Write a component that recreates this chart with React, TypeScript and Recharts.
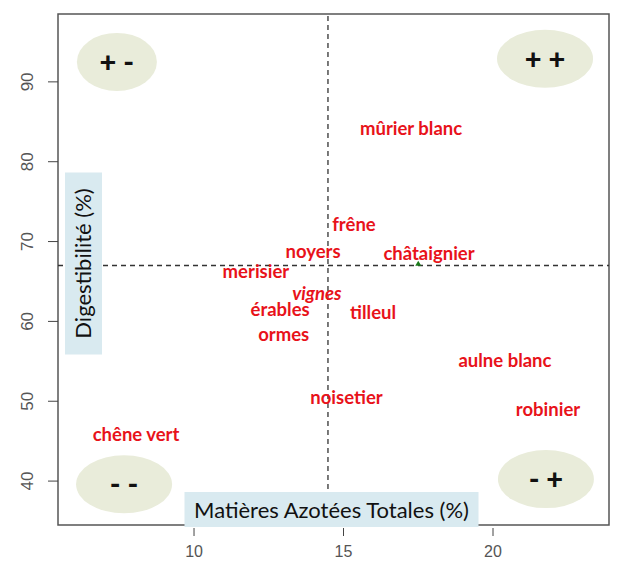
import { ReferenceArea, ReferenceLine, Scatter, ScatterChart, XAxis, YAxis } from "recharts";

// Matières Azotées Totales (%) vs Digestibilité (%) for fodder trees
const species = [
  "mûrier blanc",
  "frêne",
  "noyers",
  "châtaignier",
  "merisier",
  "vignes",
  "érables",
  "tilleul",
  "ormes",
  "aulne blanc",
  "noisetier",
  "robinier",
  "chêne vert",
];
const mat = [17.26, 15.35, 13.98, 17.86, 12.07, 14.11, 12.88, 15.99, 13.0, 20.4, 15.1, 21.84, 8.06];
const digest = [84.1, 72.1, 68.75, 68.5, 66.25, 63.5, 61.5, 61.1, 58.4, 55.1, 50.5, 49.0, 45.8];

const quadrantLabels = ["+ -", "+ +", "- -", "- +"];
const quadrantX = [7.42, 21.74, 7.66, 21.77];
const quadrantY = [92.5, 92.9, 39.6, 40.25];

const markerX = [17.5];
const markerY = [67.1];

const xTicks = [10, 15, 20];
const yTicks = [40, 50, 60, 70, 80, 90];

const MEAN_MAT = 14.48;
const MEAN_DIGEST = 67.0;

const X_MIN = 5.45;
const X_MAX = 23.88;
const Y_MIN = 34.5;
const Y_MAX = 98.5;

const RED = "#e8121a";
const BUBBLE = "#e9ecda";
const LABEL_BG = "#d9eaf0";

const speciesData = species.map((name, i) => ({ name, x: mat[i], y: digest[i] }));
const quadrantData = quadrantLabels.map((label, i) => ({ label, x: quadrantX[i], y: quadrantY[i] }));
const markerData = markerX.map((x, i) => ({ x, y: markerY[i] }));

function SpeciesLabel(props: any) {
  const { cx, cy, payload } = props;
  return (
    <text
      x={cx}
      y={cy}
      dy="0.35em"
      textAnchor="middle"
      fill={RED}
      fontFamily="Lato, 'Open Sans', sans-serif"
      fontWeight={700}
      fontSize={18.5}
      fontStyle={payload.name === "vignes" ? "italic" : "normal"}
    >
      {payload.name}
    </text>
  );
}

function QuadrantBubble(props: any) {
  const { cx, cy, payload } = props;
  const rx = payload.label === "+ -" ? 40 : 48;
  return (
    <g>
      <ellipse cx={cx} cy={cy} rx={rx} ry={29} fill={BUBBLE} />
      <text
        x={cx}
        y={cy}
        dy="0.35em"
        textAnchor="middle"
        fill="#111"
        fontFamily="Lato, 'Open Sans', sans-serif"
        fontWeight={900}
        fontSize={29}
      >
        {payload.label}
      </text>
    </g>
  );
}

function Marker(props: any) {
  const { cx, cy } = props;
  return <path d={`M${cx - 3},${cy + 1} L${cx + 3},${cy + 1} L${cx},${cy - 4} Z`} fill="#1a7a1a" />;
}

function XTick(props: any) {
  const { x, y, payload } = props;
  return (
    <g>
      <line x1={x} x2={x} y1={y + 3} y2={y + 11} stroke="#444" />
      <text x={x} y={y + 32} textAnchor="middle" fill="#555" fontFamily="'Liberation Sans', Arial, sans-serif" fontSize={16}>
        {payload.value}
      </text>
    </g>
  );
}

function YTick(props: any) {
  const { x, y, payload } = props;
  const tx = x - 25;
  return (
    <g>
      <line x1={x - 10} x2={x} y1={y} y2={y} stroke="#444" />
      <text
        x={tx}
        y={y}
        textAnchor="middle"
        transform={`rotate(-90, ${tx}, ${y})`}
        fill="#555"
        fontFamily="'Liberation Sans', Arial, sans-serif"
        fontSize={17}
      >
        {payload.value}
      </text>
    </g>
  );
}

function XAxisTitle(props: any) {
  const { viewBox } = props;
  const cx = viewBox.x + viewBox.width / 2 - 2;
  const top = viewBox.y - 33;
  return (
    <g>
      <rect x={cx - 147} y={top} width={294} height={35} fill={LABEL_BG} />
      <text
        x={cx}
        y={top + 18}
        dy="0.35em"
        textAnchor="middle"
        fill="#111"
        fontFamily="Lato, 'Open Sans', sans-serif"
        fontSize={22}
      >
        Matières Azotées Totales (%)
      </text>
    </g>
  );
}

function YAxisTitle(props: any) {
  const { viewBox } = props;
  const cx = viewBox.x + viewBox.width + 25;
  const cy = viewBox.y + viewBox.height / 2 - 6;
  return (
    <g>
      <rect x={cx - 18} y={cy - 91} width={37} height={182} fill={LABEL_BG} />
      <text
        x={cx}
        y={cy}
        dy="0.35em"
        textAnchor="middle"
        transform={`rotate(-90, ${cx}, ${cy})`}
        fill="#111"
        fontFamily="Lato, 'Open Sans', sans-serif"
        fontSize={22}
      >
        Digestibilité (%)
      </text>
    </g>
  );
}

export default function App() {
  return (
    <div style={{ position: "absolute", left: 0, top: 0, width: 644, height: 576, background: "#fff" }}>
      <ScatterChart width={644} height={576} margin={{ top: 14, right: 35, bottom: 0, left: 0 }}>
        <XAxis
          type="number"
          dataKey="x"
          domain={[X_MIN, X_MAX]}
          ticks={xTicks}
          allowDataOverflow
          height={51}
          axisLine={false}
          tickLine={false}
          tickSize={0}
          tickMargin={0}
          tick={<XTick />}
          label={<XAxisTitle />}
        />
        <YAxis
          type="number"
          dataKey="y"
          domain={[Y_MIN, Y_MAX]}
          ticks={yTicks}
          allowDataOverflow
          width={58}
          axisLine={false}
          tickLine={false}
          tickSize={0}
          tickMargin={0}
          tick={<YTick />}
          label={<YAxisTitle />}
        />
        <ReferenceArea x1={X_MIN} x2={X_MAX} y1={Y_MIN} y2={Y_MAX} fill="none" stroke="#555" strokeWidth={1.5} />
        <Scatter data={quadrantData} shape={<QuadrantBubble />} isAnimationActive={false} />
        <ReferenceLine x={MEAN_MAT} stroke="#333" strokeWidth={1.3} strokeDasharray="5 4" />
        <ReferenceLine y={MEAN_DIGEST} stroke="#333" strokeWidth={1.3} strokeDasharray="5 4" />
        <Scatter data={markerData} shape={<Marker />} isAnimationActive={false} />
        <Scatter data={speciesData} shape={<SpeciesLabel />} isAnimationActive={false} />
      </ScatterChart>
    </div>
  );
}
